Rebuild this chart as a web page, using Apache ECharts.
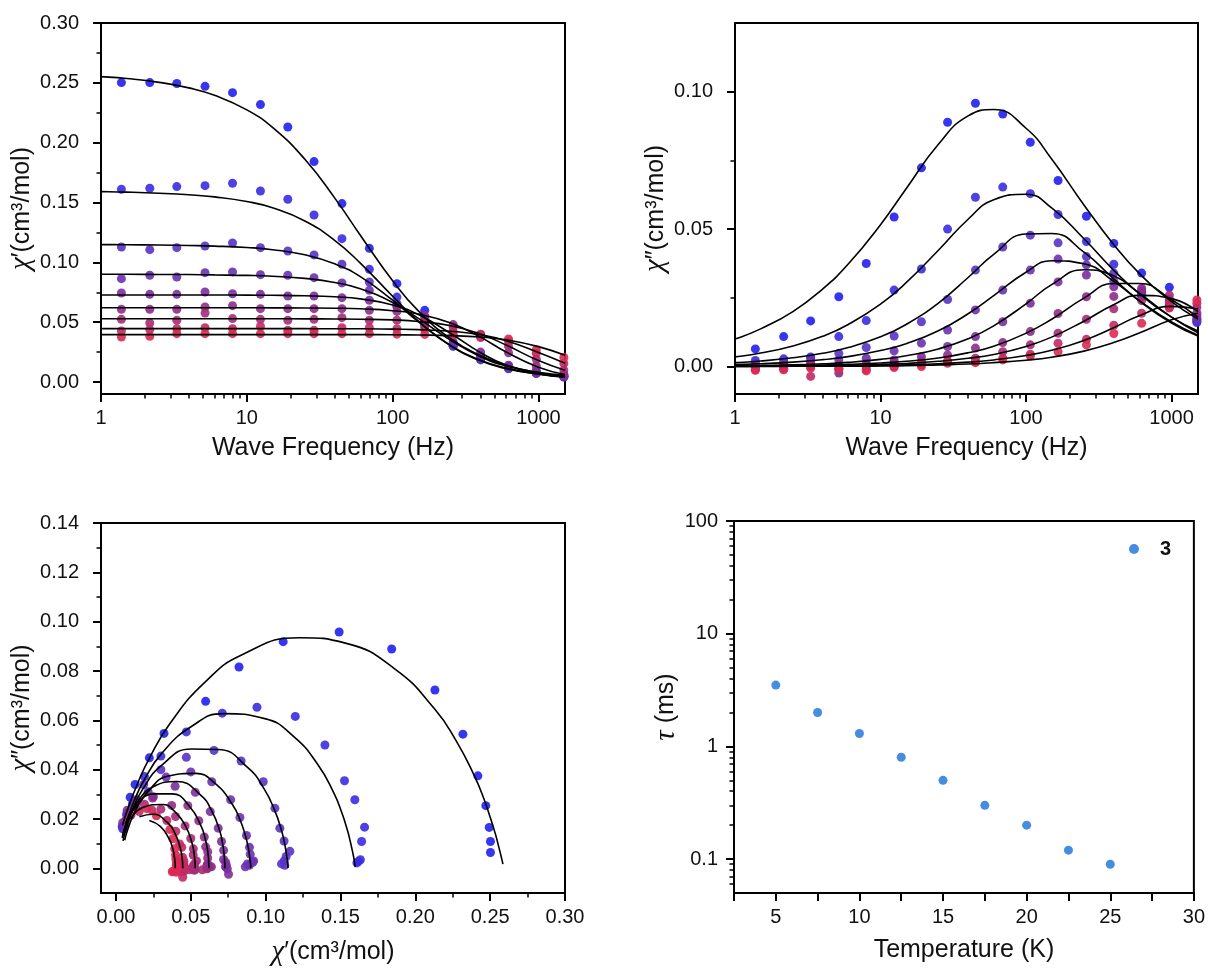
<!DOCTYPE html>
<html><head><meta charset="utf-8">
<script src="https://cdn.jsdelivr.net/npm/echarts@6/dist/echarts.min.js"></script>
<style>html,body{margin:0;padding:0;background:#fff}#c{width:1208px;height:975px}</style>
</head><body><div id="c"></div>
<script>
// ---------- data ----------
const FREQ = [1.38, 2.16, 3.31, 5.17, 7.98, 12.4, 19.1, 28.9, 44.9, 69.2, 107, 166, 260, 401, 623, 966, 1493];
const FIT_FREQ = [0.1, 0.2, 0.4, 0.7, 1, 1.5, 2.5, 4, 6, 10, 15, 25, 40, 60, 100, 150, 250, 400, 600, 1000, 1520];

const CHI_P_DATA = [
  [0.2502, 0.2502, 0.2494, 0.2471, 0.2418, 0.2318, 0.2131, 0.1842, 0.1491, 0.1117, 0.0822, 0.0599, 0.0321, 0.0223, 0.0128, 0.0095, 0.0042],
  [0.1610, 0.1619, 0.1633, 0.1641, 0.1661, 0.1596, 0.1527, 0.1396, 0.1198, 0.0942, 0.0710, 0.0470, 0.0300, 0.0190, 0.0115, 0.0072, 0.0045],
  [0.1128, 0.1106, 0.1123, 0.1137, 0.1162, 0.1123, 0.1095, 0.1062, 0.0984, 0.0836, 0.0655, 0.0470, 0.0300, 0.0185, 0.0110, 0.0072, 0.0048],
  [0.0864, 0.0892, 0.0878, 0.0914, 0.0920, 0.0897, 0.0892, 0.0872, 0.0828, 0.0766, 0.0640, 0.0500, 0.0335, 0.0215, 0.0135, 0.0085, 0.0058],
  [0.0744, 0.0733, 0.0733, 0.0752, 0.0738, 0.0733, 0.0719, 0.0719, 0.0705, 0.0683, 0.0630, 0.0530, 0.0395, 0.0250, 0.0140, 0.0075, 0.0045],
  [0.0608, 0.0608, 0.0608, 0.0627, 0.0638, 0.0613, 0.0613, 0.0613, 0.0613, 0.0599, 0.0590, 0.0553, 0.0480, 0.0372, 0.0245, 0.0135, 0.0065],
  [0.0524, 0.0493, 0.0516, 0.0577, 0.0530, 0.0524, 0.0516, 0.0524, 0.0538, 0.0516, 0.0517, 0.0500, 0.0462, 0.0398, 0.0300, 0.0190, 0.0100],
  [0.0426, 0.0438, 0.0446, 0.0454, 0.0446, 0.0465, 0.0432, 0.0432, 0.0454, 0.0454, 0.0445, 0.0440, 0.0425, 0.0400, 0.0340, 0.0240, 0.0155],
  [0.0376, 0.0382, 0.0404, 0.0404, 0.0404, 0.0404, 0.0404, 0.0404, 0.0404, 0.0404, 0.0400, 0.0398, 0.0392, 0.0380, 0.0360, 0.0270, 0.0205]
];
const CHI_PP_DATA = [
  [0.0064, 0.0109, 0.0166, 0.0254, 0.0375, 0.0544, 0.0723, 0.0889, 0.0958, 0.0919, 0.0816, 0.0677, 0.0547, 0.0448, 0.0340, 0.0288, 0.0170],
  [0.0022, 0.0028, 0.0035, 0.0109, 0.0167, 0.0278, 0.0355, 0.0500, 0.0616, 0.0653, 0.0629, 0.0553, 0.0455, 0.0372, 0.0255, 0.0215, 0.0160],
  [0.0012, 0.0018, 0.0030, 0.0048, 0.0069, 0.0111, 0.0163, 0.0244, 0.0351, 0.0435, 0.0478, 0.0450, 0.0400, 0.0340, 0.0262, 0.0222, 0.0165],
  [0.0006, 0.0012, 0.0018, 0.0024, 0.0030, 0.0057, 0.0085, 0.0133, 0.0206, 0.0278, 0.0351, 0.0391, 0.0370, 0.0310, 0.0270, 0.0228, 0.0175],
  [-0.0002, 0.0006, 0.0006, -0.0024, 0.0012, 0.0024, 0.0036, 0.0073, 0.0109, 0.0163, 0.0230, 0.0308, 0.0333, 0.0290, 0.0278, 0.0235, 0.0185],
  [0.0000, -0.0002, 0.0012, 0.0006, 0.0006, 0.0012, 0.0018, 0.0042, 0.0067, 0.0087, 0.0127, 0.0193, 0.0254, 0.0255, 0.0285, 0.0245, 0.0195],
  [-0.0008, -0.0006, 0.0000, -0.0006, -0.0004, 0.0006, 0.0010, 0.0018, 0.0030, 0.0054, 0.0079, 0.0121, 0.0172, 0.0210, 0.0240, 0.0260, 0.0215],
  [-0.0012, -0.0010, -0.0036, -0.0012, -0.0012, 0.0000, 0.0006, 0.0020, 0.0018, 0.0030, 0.0045, 0.0085, 0.0099, 0.0150, 0.0194, 0.0236, 0.0230],
  [-0.0014, -0.0012, -0.0006, -0.0008, -0.0016, -0.0004, 0.0000, 0.0012, 0.0014, 0.0024, 0.0038, 0.0054, 0.0079, 0.0120, 0.0157, 0.0213, 0.0242]
];
const CHI_P_FIT = [
  [0.2585, 0.2581, 0.2573, 0.2562, 0.2552, 0.2536, 0.2504, 0.2458, 0.2396, 0.2274, 0.2128, 0.1862, 0.1539, 0.1227, 0.0846, 0.0595, 0.0362, 0.0221, 0.0141, 0.0076, 0.0043],
  [0.1599, 0.1598, 0.1596, 0.1593, 0.1591, 0.1587, 0.1578, 0.1565, 0.1547, 0.1508, 0.1456, 0.1346, 0.1184, 0.0994, 0.0717, 0.0509, 0.0304, 0.0182, 0.0116, 0.0066, 0.0043],
  [0.1150, 0.1150, 0.1149, 0.1148, 0.1148, 0.1147, 0.1145, 0.1141, 0.1136, 0.1124, 0.1106, 0.1063, 0.0988, 0.0881, 0.0684, 0.0504, 0.0303, 0.0177, 0.0112, 0.0067, 0.0047],
  [0.0901, 0.0901, 0.0901, 0.0900, 0.0900, 0.0900, 0.0899, 0.0898, 0.0895, 0.0891, 0.0884, 0.0866, 0.0832, 0.0779, 0.0664, 0.0532, 0.0349, 0.0212, 0.0135, 0.0081, 0.0058],
  [0.0727, 0.0727, 0.0727, 0.0727, 0.0727, 0.0727, 0.0727, 0.0727, 0.0727, 0.0726, 0.0725, 0.0721, 0.0712, 0.0695, 0.0644, 0.0564, 0.0406, 0.0246, 0.0142, 0.0069, 0.0042],
  [0.0621, 0.0621, 0.0621, 0.0621, 0.0621, 0.0621, 0.0621, 0.0621, 0.0621, 0.0621, 0.0620, 0.0619, 0.0617, 0.0612, 0.0596, 0.0568, 0.0494, 0.0375, 0.0251, 0.0124, 0.0063],
  [0.0529, 0.0529, 0.0529, 0.0529, 0.0529, 0.0529, 0.0529, 0.0529, 0.0529, 0.0529, 0.0529, 0.0528, 0.0527, 0.0525, 0.0519, 0.0506, 0.0470, 0.0401, 0.0309, 0.0179, 0.0098],
  [0.0446, 0.0446, 0.0446, 0.0446, 0.0446, 0.0446, 0.0446, 0.0446, 0.0446, 0.0446, 0.0446, 0.0446, 0.0445, 0.0445, 0.0442, 0.0438, 0.0424, 0.0395, 0.0345, 0.0247, 0.0157],
  [0.0396, 0.0396, 0.0396, 0.0396, 0.0396, 0.0396, 0.0396, 0.0396, 0.0396, 0.0396, 0.0396, 0.0396, 0.0396, 0.0396, 0.0395, 0.0393, 0.0388, 0.0376, 0.0353, 0.0296, 0.0223]
];
const CHI_PP_FIT = [
  [0.0017, 0.0029, 0.0049, 0.0076, 0.0100, 0.0137, 0.0200, 0.0282, 0.0373, 0.0516, 0.0647, 0.0809, 0.0912, 0.0935, 0.0867, 0.0755, 0.0588, 0.0444, 0.0339, 0.0236, 0.0173],
  [0.0005, 0.0009, 0.0016, 0.0026, 0.0035, 0.0049, 0.0075, 0.0110, 0.0153, 0.0227, 0.0305, 0.0423, 0.0536, 0.0607, 0.0627, 0.0577, 0.0465, 0.0351, 0.0265, 0.0180, 0.0129],
  [0.0002, 0.0003, 0.0006, 0.0010, 0.0014, 0.0020, 0.0032, 0.0048, 0.0069, 0.0108, 0.0153, 0.0231, 0.0324, 0.0408, 0.0482, 0.0484, 0.0416, 0.0319, 0.0239, 0.0158, 0.0111],
  [0.0001, 0.0002, 0.0003, 0.0005, 0.0007, 0.0010, 0.0016, 0.0025, 0.0036, 0.0058, 0.0083, 0.0130, 0.0192, 0.0258, 0.0343, 0.0385, 0.0374, 0.0310, 0.0240, 0.0162, 0.0114],
  [0.0000, 0.0001, 0.0001, 0.0002, 0.0003, 0.0004, 0.0006, 0.0010, 0.0015, 0.0026, 0.0039, 0.0064, 0.0101, 0.0148, 0.0228, 0.0298, 0.0352, 0.0330, 0.0267, 0.0180, 0.0123],
  [0.0000, 0.0000, 0.0001, 0.0001, 0.0001, 0.0002, 0.0003, 0.0005, 0.0008, 0.0013, 0.0019, 0.0031, 0.0050, 0.0074, 0.0121, 0.0172, 0.0249, 0.0302, 0.0302, 0.0243, 0.0180],
  [0.0000, 0.0000, 0.0000, 0.0001, 0.0001, 0.0001, 0.0002, 0.0003, 0.0005, 0.0007, 0.0011, 0.0019, 0.0030, 0.0044, 0.0073, 0.0107, 0.0165, 0.0225, 0.0259, 0.0247, 0.0200],
  [0.0000, 0.0000, 0.0000, 0.0000, 0.0000, 0.0001, 0.0001, 0.0002, 0.0002, 0.0004, 0.0006, 0.0010, 0.0016, 0.0024, 0.0040, 0.0059, 0.0095, 0.0141, 0.0185, 0.0219, 0.0209],
  [0.0000, 0.0000, 0.0000, 0.0000, 0.0000, 0.0000, 0.0001, 0.0001, 0.0001, 0.0002, 0.0003, 0.0006, 0.0009, 0.0014, 0.0023, 0.0034, 0.0056, 0.0087, 0.0122, 0.0170, 0.0194]
];

const TEMP = [5, 7.5, 10, 12.5, 15, 17.5, 20, 22.5, 25];
const TAU = [3.5, 2.0, 1.3, 0.8, 0.5, 0.3, 0.2, 0.12, 0.09];

// tick labels
const Y1_TICKS = [0, 0.05, 0.10, 0.15, 0.20, 0.25, 0.30];
const Y1_MINOR = [0.025, 0.075, 0.125, 0.175, 0.225, 0.275];
const Y2_TICKS = [0, 0.05, 0.10];
const Y2_MINOR = [0.025, 0.075];
const X3_TICKS = [0, 0.05, 0.10, 0.15, 0.20, 0.25, 0.30];
const X3_MINOR = [0.025, 0.075, 0.125, 0.175, 0.225, 0.275];
const Y3_TICKS = [0, 0.02, 0.04, 0.06, 0.08, 0.10, 0.12, 0.14];
const Y3_MINOR = [0.01, 0.03, 0.05, 0.07, 0.09, 0.11, 0.13];

const SERIES_COLORS = ['#2020ee', '#3a2be2', '#5634c8', '#6a31b2', '#7b2e9e', '#8d2c8a', '#a72b77', '#c22a65', '#dc2a52'];
const TAU_COLOR = '#1670da';

// ---------- helpers ----------
const F = "'Liberation Sans', Arial, Helvetica, sans-serif";
const TXT = '#111';
const FREQ_MAX = 1520;
function fmt2(v) { return v.toFixed(2); }
function fmtLog(v) {
  const l = Math.log10(v);
  if (Math.abs(l - Math.round(l)) > 1e-6) return '';
  return String(+v.toPrecision(6));
}
function logTicks(lo, hi, minor) {
  const out = [];
  for (let n = Math.floor(lo) - 1; n <= Math.ceil(hi); n++) {
    if (minor) {
      for (let k = 2; k <= 9; k++) { const v = Math.log10(k) + n; if (v > lo + 1e-9 && v < hi - 1e-9) out.push(v); }
    } else if (n >= lo - 1e-9 && n <= hi + 1e-9) out.push(n);
  }
  return out;
}
const nameStyle = { fontSize: 25, fontFamily: F, color: TXT,
  rich: { i: { fontSize: 29, fontFamily: "'Liberation Serif', 'DejaVu Serif', serif", fontStyle: 'italic', color: TXT } } };
const labelStyle = { fontSize: 20, fontFamily: F, color: TXT };
const axisLine = { show: true, onZero: false, lineStyle: { color: '#000', width: 2 } };

function mainValue(g, pos, min, max, ticks, fmt, name, nameGap, margin) {
  return {
    type: 'value', gridIndex: g, position: pos, min, max,
    name, nameLocation: 'middle', nameGap, nameTextStyle: nameStyle,
    axisLine, splitLine: { show: false },
    axisTick: { show: true, inside: false, length: 8, customValues: ticks, lineStyle: { color: '#000', width: 2 } },
    axisLabel: Object.assign({ customValues: ticks, formatter: fmt, margin }, labelStyle)
  };
}
function mainLog(g, pos, min, max, name, nameGap, margin) {
  return {
    type: 'log', logBase: 10, gridIndex: g, position: pos, min, max,
    name, nameLocation: 'middle', nameGap, nameTextStyle: nameStyle,
    axisLine, splitLine: { show: false }, axisTick: { show: false },
    axisLabel: Object.assign({ formatter: fmtLog, margin }, labelStyle)
  };
}
function tickOnly(g, pos, min, max, values, len) {
  return {
    type: 'value', gridIndex: g, position: pos, min, max, silent: true,
    axisLine: { show: false, onZero: false }, splitLine: { show: false }, axisLabel: { show: false },
    axisTick: { show: true, inside: false, length: len, customValues: values, lineStyle: { color: '#000', width: len > 6 ? 2 : 1.5 } }
  };
}

const LX = Math.log10(FREQ_MAX);
const LY4 = [Math.log10(0.05), 2];

const xAxis = [
  mainLog(0, 'bottom', 1, FREQ_MAX, 'Wave Frequency (Hz)', 42, 14),
  mainLog(1, 'bottom', 1, FREQ_MAX, 'Wave Frequency (Hz)', 42, 14),
  mainValue(2, 'bottom', -0.01, 0.30, X3_TICKS, fmt2, '{i|χ}′(cm³/mol)', 45, 14),
  {
    type: 'value', gridIndex: 3, position: 'bottom', min: 2.5, max: 30, interval: 2.5,
    name: 'Temperature (K)', nameLocation: 'middle', nameGap: 45, nameTextStyle: nameStyle,
    axisLine, splitLine: { show: false },
    axisTick: { show: true, inside: false, length: 8, lineStyle: { color: '#000', width: 2 } },
    axisLabel: Object.assign({ margin: 14, formatter: v => (Math.abs(v % 5) < 1e-9 ? String(v) : ''), showMinLabel: true, showMaxLabel: true }, labelStyle)
  },
  tickOnly(0, 'bottom', 0, LX, logTicks(0, LX, false), 8),
  tickOnly(0, 'bottom', 0, LX, logTicks(0, LX, true), 4.5),
  tickOnly(1, 'bottom', 0, LX, logTicks(0, LX, false), 8),
  tickOnly(1, 'bottom', 0, LX, logTicks(0, LX, true), 4.5),
  tickOnly(2, 'bottom', -0.01, 0.30, X3_MINOR, 4.5)
];
const yAxis = [
  mainValue(0, 'left', -0.01, 0.30, Y1_TICKS, fmt2, '{i|χ}′(cm³/mol)', 58, 22),
  mainValue(1, 'left', -0.01, 0.125, Y2_TICKS, fmt2, '{i|χ}″(cm³/mol)', 58, 22),
  mainValue(2, 'left', -0.01, 0.14, Y3_TICKS, fmt2, '{i|χ}″(cm³/mol)', 58, 22),
  mainLog(3, 'left', 0.05, 100, '{i|τ} (ms)', 50, 16),
  tickOnly(0, 'left', -0.01, 0.30, Y1_MINOR, 4.5),
  tickOnly(1, 'left', -0.01, 0.125, Y2_MINOR, 4.5),
  tickOnly(2, 'left', -0.01, 0.14, Y3_MINOR, 4.5),
  tickOnly(3, 'left', LY4[0], LY4[1], logTicks(LY4[0], LY4[1], false), 8),
  tickOnly(3, 'left', LY4[0], LY4[1], logTicks(LY4[0], LY4[1], true), 4.5)
];

const gridBox = { show: true, borderColor: '#000', borderWidth: 2, backgroundColor: 'transparent' };
const grid = [
  Object.assign({ left: 101, top: 23, width: 464, height: 371 }, gridBox),
  Object.assign({ left: 735, top: 23, width: 463, height: 371 }, gridBox),
  Object.assign({ left: 101, top: 523, width: 464, height: 370 }, gridBox),
  Object.assign({ left: 734, top: 521, width: 463, height: 372 }, gridBox)
];

const series = [];
for (let i = 0; i < 9; i++) {
  const sc = { type: 'scatter', symbolSize: 9, itemStyle: { color: SERIES_COLORS[i], opacity: 0.9 }, z: 2, silent: true };
  series.push(Object.assign({ xAxisIndex: 0, yAxisIndex: 0, data: FREQ.map((f, j) => [f, CHI_P_DATA[i][j]]) }, sc));
  series.push(Object.assign({ xAxisIndex: 1, yAxisIndex: 1, data: FREQ.map((f, j) => [f, CHI_PP_DATA[i][j]]) }, sc));
  series.push(Object.assign({ xAxisIndex: 2, yAxisIndex: 2, data: FREQ.map((f, j) => [CHI_P_DATA[i][j], CHI_PP_DATA[i][j]]) }, sc));
}
for (let i = 0; i < 9; i++) {
  const ln = { type: 'line', symbol: 'none', smooth: 0.5, clip: true, silent: true, z: 3,
    lineStyle: { color: '#000', width: 1.6 } };
  series.push(Object.assign({ xAxisIndex: 0, yAxisIndex: 0, data: FIT_FREQ.map((f, j) => [f, CHI_P_FIT[i][j]]) }, ln));
  series.push(Object.assign({ xAxisIndex: 1, yAxisIndex: 1, data: FIT_FREQ.map((f, j) => [f, CHI_PP_FIT[i][j]]) }, ln));
  series.push(Object.assign({ xAxisIndex: 2, yAxisIndex: 2, data: FIT_FREQ.map((f, j) => [CHI_P_FIT[i][j], CHI_PP_FIT[i][j]]) }, ln));
}
series.push({ name: '3', type: 'scatter', xAxisIndex: 3, yAxisIndex: 3, symbolSize: 9,
  itemStyle: { color: TAU_COLOR }, data: TEMP.map((t, j) => [t, TAU[j]]) });

const chart = echarts.init(document.getElementById('c'), null, { renderer: 'canvas' });
chart.setOption({
  animation: false,
  backgroundColor: '#fff',
  grid, xAxis, yAxis, series,
  legend: {
    data: ['3'], left: 1129, top: 539, itemWidth: 10, itemHeight: 10, icon: 'circle', padding: 0,
    textStyle: { fontSize: 20, fontWeight: 'bold', fontFamily: F, color: TXT, padding: [0, 0, 0, 16] }
  }
});
</script>
</body></html>
